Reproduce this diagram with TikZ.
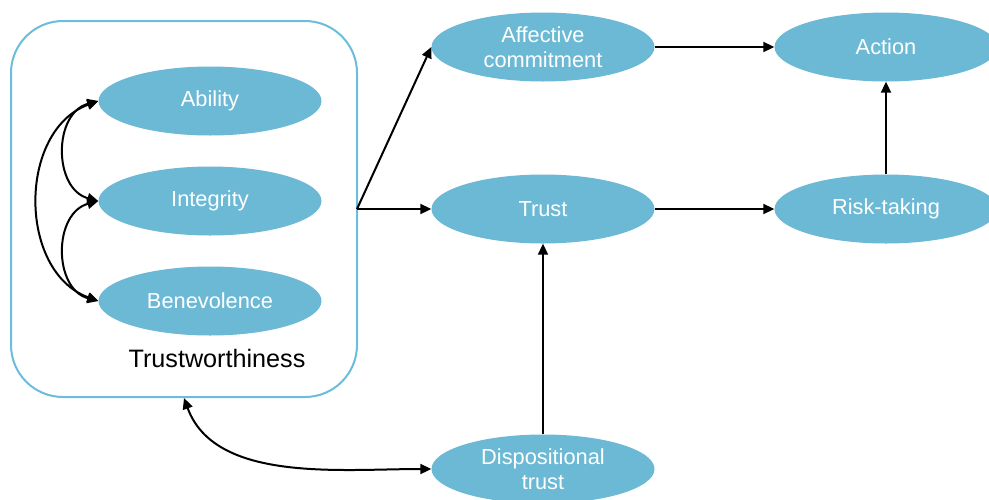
\documentclass[tikz,border=0pt]{standalone}
\usepackage{fontspec}
\setmainfont{Liberation Sans}
\usetikzlibrary{shapes.geometric,arrows.meta}
\definecolor{bubble}{HTML}{6CB9D5}
\definecolor{frameblue}{HTML}{6CBCDB}
\tikzset{
  bubble/.style={ellipse, fill=bubble, draw=none, minimum width=223pt, minimum height=69pt,
    inner sep=0pt, text=white, font=\fontsize{21.8}{25}\selectfont, align=center},
  link/.style={line width=2pt, -{Triangle[length=11pt,width=10pt]}},
  twoway/.style={line width=2pt, {Triangle[length=11pt,width=10pt]}-{Triangle[length=11pt,width=10pt]}},
}
\begin{document}
\begin{tikzpicture}[x=1pt,y=-1pt]
\useasboundingbox (0,0) rectangle (989,499);
\begin{scope}
\clip (0,0) rectangle (989,499);

% trustworthiness frame
\draw[frameblue, line width=2pt, rounded corners=52pt] (11,21) rectangle (357,397);
\node[font=\fontsize{25.2}{28}\selectfont] (tw) at (217,358) {Trustworthiness};
\coordinate (split) at (357,209);
\coordinate (frameb) at (184,398);

% factor nodes
\node[bubble] (abil) at (210,101) {Ability};
\node[bubble] (integ) at (210,201) {Integrity};
\node[bubble] (benev) at (210,301) {Benevolence};

\node[bubble] (aff) at (543,47) {Affective\\commitment};
\node[bubble] (trust) at (543,209) {Trust};
\node[bubble] (disp) at (543,469) {Dispositional\\trust};
\node[bubble] (act) at (886,47) {Action};
\node[bubble] (risk) at (886,209) {Risk-taking};

% correlations among the factors
\draw[twoway] (abil.west) to[out=195,in=165,looseness=1.2] (integ.west);
\draw[twoway] (integ.west) to[out=195,in=165,looseness=1.2] (benev.west);
\draw[twoway] (abil.west) to[out=200,in=160,looseness=1.1] (benev.west);

% paths
\draw[link] (split) -- (aff.west);
\draw[link] (split) -- (trust.west);
\draw[link] (aff.east) -- (act.west);
\draw[link] (trust.east) -- (risk.west);
\draw[link] (risk.north) -- (act.south);
\draw[link] (disp.north) -- (trust.south);
\draw[twoway] (frameb) to[out=-70,in=180,looseness=0.9] (disp.west);
\end{scope}
\end{tikzpicture}
\end{document}
